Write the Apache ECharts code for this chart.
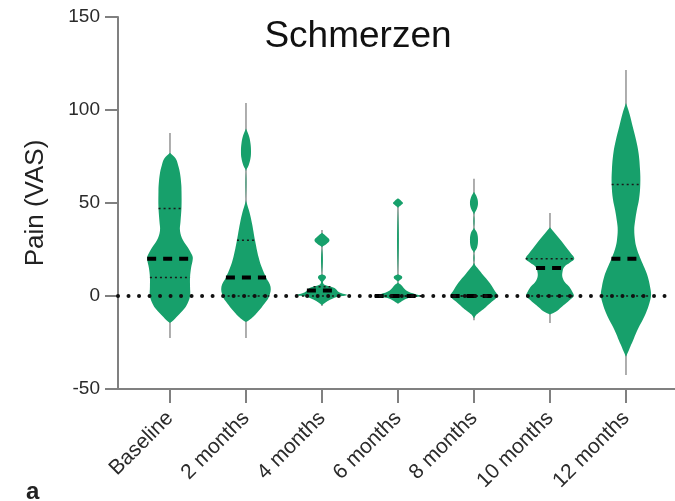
<!DOCTYPE html>
<html>
<head>
<meta charset="utf-8">
<script src="https://cdn.jsdelivr.net/npm/echarts@6/dist/echarts.min.js"></script>
<style>
  html, body { margin: 0; padding: 0; background: #fff; }
  #chart { width: 675px; height: 501px; }
</style>
</head>
<body>
<div id="chart"></div>
<script>
var categories = ['Baseline', '2 months', '4 months', '6 months', '8 months', '10 months', '12 months'];

// violin outlines: [pain value, relative width in % of widest violin]
var profBaseline = [[77,0],[74,22],[70,33],[66,40],[60,45],[56,46],[48,46],[40,42],[35,40],[30,52],[26,72],[22,88],[20,91],[15,84],[10,80],[5,80],[0,80],[-4,70],[-7,56],[-10,36],[-13,14],[-14.5,0]];
var prof2m = [[90,0],[86,12],[82,18],[78,20],[74,18],[70,10],[67,0],[52,0],[50,3],[45,14],[39,24],[30,36],[21,50],[15,64],[10,80],[5,98],[0,93],[-3,80],[-6,63],[-9,44],[-11,30],[-13,12],[-14,0]];
var prof4m = [[34,0],[32,18],[30,30],[28,18],[26,0],[12,0],[11,12],[10,16],[9,12],[7.5,4],[6,10],[4.3,50],[2,68],[0.5,100],[-0.5,60],[-2,32],[-3.5,14],[-5,0]];
var prof6m = [[52.5,0],[51,14],[50,20],[49,14],[47,0],[12,0],[11,12],[10,17],[9,12],[7.5,0],[6,12],[3,33],[1,70],[0,93],[-1,48],[-2,25],[-3.5,8],[-4,0]];
var prof8m = [[56,0],[53,12],[50,16],[47,12],[43.5,0],[37,0],[34,12],[30,16],[26,12],[23,0],[18,0],[15,14],[12,32],[7,63],[3,82],[0,93],[-3,72],[-6,47],[-8,28],[-10,10],[-12,0]];
var prof10m = [[37,0],[34,18],[30,43],[26,66],[23,83],[20,97],[18,80],[15.6,57],[13,50],[10,50],[7,62],[5,77],[2,90],[0,95],[-2,80],[-4,63],[-6,45],[-8.5,23],[-10,0]];
var prof12m = [[103.7,0],[98,14],[91,27],[84,40],[77,50],[68,56],[60,57],[52,52],[46,43],[40,36],[35.5,33],[30,36],[26.5,41],[22,52],[19.4,60],[15,74],[10.4,87],[5,96],[0.5,100],[-4,93],[-9,80],[-13,66],[-16.5,52],[-20,40],[-23.6,29],[-27,18],[-29,12],[-32.6,0]];
var profiles = [profBaseline, prof2m, prof4m, prof6m, prof8m, prof10m, prof12m];

var medians = [20, 10, 3, 0, 0, 15, 20];
var q1 = [10, 0, 0, 0, 0, 0, 0];
var q3 = [47, 30, 5, 0, 0, 20, 60];
var rangeMin = [-22.6, -22.6, -5.4, -4, -13, -14.5, -42.5];
var rangeMax = [87.6, 103.7, 35.5, 51, 63, 44.6, 121.5];

var yTicks = [-50, 0, 50, 100, 150];

var GREEN = '#17a06b';
var HALF = 0.33; // widest half-width, in category units

// width of a violin at value v (linear between outline points)
function widthAt(p, v) {
    for (var k = 0; k < p.length - 1; k++) {
        var a = p[k], b = p[k + 1];
        if (v <= a[0] && v >= b[0]) {
            var t = (a[0] - v) / (a[0] - b[0] || 1);
            return a[1] + (b[1] - a[1]) * t;
        }
    }
    return 0;
}

function renderViolin(params, api) {
    var i = api.value(0);
    var p = profiles[i];
    var right = p.map(function (d) { return api.coord([i + d[1] / 100 * HALF, d[0]]); });
    var left = p.slice().reverse().map(function (d) { return api.coord([i - d[1] / 100 * HALF, d[0]]); });
    var top = api.coord([i, rangeMax[i]]);
    var bot = api.coord([i, rangeMin[i]]);

    function hline(v, style) {
        var w = widthAt(p, v) / 100 * HALF;
        var a = api.coord([i - w, v]), b = api.coord([i + w, v]);
        return { type: 'line', shape: { x1: a[0], y1: a[1], x2: b[0], y2: b[1] }, style: style };
    }

    var dotted = { stroke: '#1a1a1a', lineWidth: 1.5, lineDash: [2, 3] };
    return {
        type: 'group',
        children: [
            { type: 'line', shape: { x1: top[0], y1: top[1], x2: bot[0], y2: bot[1] },
              style: { stroke: '#9a9a9a', lineWidth: 1.6 } },
            { type: 'polygon', shape: { points: right.concat(left), smooth: 0.4 },
              style: { fill: GREEN } },
            hline(q1[i], dotted),
            hline(q3[i], dotted),
            hline(medians[i], { stroke: '#000', lineWidth: 4, lineDash: [9, 7] })
        ]
    };
}

var chart = echarts.init(document.getElementById('chart'));

var option = {
    animation: false,
    title: {
        text: 'Schmerzen',
        left: 353,
        top: 13,
        textAlign: 'center',
        textStyle: { fontFamily: 'Liberation Sans, Arial', fontSize: 37, fontWeight: 'normal', color: '#111' }
    },
    graphic: [{
        type: 'text', left: 26, top: 480,
        style: { text: 'a', font: 'bold 24px Liberation Sans Narrow, Liberation Sans, Arial', fill: '#222' }
    }],
    grid: { left: 118, right: 0, top: 17, bottom: 112 },
    xAxis: {
        type: 'value',
        min: -0.684,
        max: 6.645,
        splitLine: { show: false },
        axisLine: { onZero: false, lineStyle: { color: '#808080', width: 2 } },
        axisTick: { show: true, length: 14, customValues: categories.map(function (c, i) { return i; }),
                    lineStyle: { color: '#808080', width: 2 } },
        axisLabel: {
            customValues: categories.map(function (c, i) { return i; }),
            formatter: function (v) { return categories[v]; },
            rotate: 45, margin: 26, fontSize: 21, color: '#2a2a2a',
            fontFamily: 'Liberation Sans, Arial'
        }
    },
    yAxis: {
        type: 'value',
        min: -50, max: 150, interval: 50,
        name: 'Pain (VAS)',
        nameLocation: 'middle',
        nameGap: 69,
        nameTextStyle: { fontSize: 26, color: '#222', fontFamily: 'Liberation Sans, Arial' },
        splitLine: { show: false },
        axisLine: { show: true, onZero: false, lineStyle: { color: '#808080', width: 2 } },
        axisTick: { show: true, length: 13, lineStyle: { color: '#808080', width: 2 } },
        axisLabel: { margin: 18, fontSize: 19, color: '#2a2a2a', fontFamily: 'Liberation Sans, Arial',
                     customValues: yTicks }
    },
    series: [{
        type: 'custom',
        renderItem: renderViolin,
        data: categories.map(function (c, i) { return [i]; }),
        encode: { x: 0 },
        z: 2
    }, {
        type: 'line',
        data: [],
        z: 5,
        markLine: {
            silent: true,
            symbol: 'none',
            label: { show: false },
            lineStyle: { color: '#111', width: 4, type: [0.01, 10.5], cap: 'round' },
            data: [{ yAxis: 0 }]
        }
    }]
};

option && chart.setOption(option);
window.addEventListener('resize', chart.resize);
</script>
</body>
</html>
